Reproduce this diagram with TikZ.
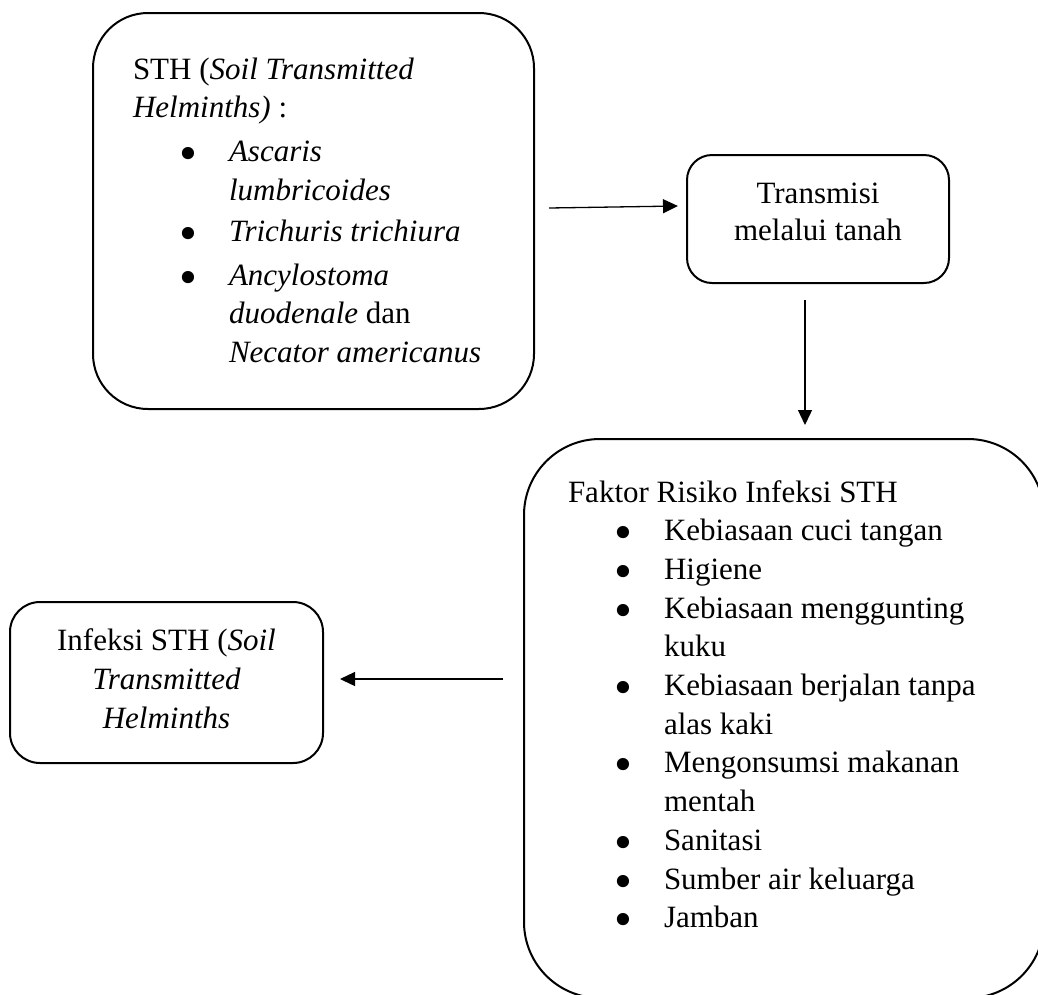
\documentclass[tikz,border=0pt]{standalone}
\usepackage{fontspec}
\setmainfont{Liberation Serif}
\usepackage{graphicx}
\usetikzlibrary{arrows.meta}
\newcommand\mybul{\makebox[96pt][l]{\hspace{46pt}\raisebox{-9pt}[0pt][0pt]{\scalebox{1.65}{\textbullet}}}}
\newcommand\myind{\hspace*{96pt}}
\tikzset{
  box/.style={draw, line width=2pt, inner sep=0pt, outer sep=0pt},
  txt/.style={inner sep=0pt, outer sep=0pt},
  arr/.style={-{Triangle[length=15pt,width=14pt]}, line width=1.3pt}
}
\begin{document}
\begin{tikzpicture}[x=1pt,y=-1pt]
\useasboundingbox (0,0) rectangle (1038,994);
\clip (0,0) rectangle (1038,994);
% boxes
\node[box, rounded corners=55pt, minimum width=441pt, minimum height=396pt] (b1) at (313.5,211) {};
\node[box, rounded corners=25pt, minimum width=262pt, minimum height=128pt] (b2) at (818,219) {};
\node[box, rounded corners=76pt, minimum width=520pt, minimum height=559pt] (b3) at (784,718.5) {};
\node[box, rounded corners=30pt, minimum width=313pt, minimum height=161pt] (b4) at (166.5,682.5) {};
% texts
\node[txt, anchor=base west, font=\fontsize{31}{38.5}\selectfont] (t1) at (133,79) {%
\begin{tabular}[t]{@{}l@{}}
STH (\textit{Soil Transmitted}\\
\textit{Helminths)} :\\[5.5pt]
\mybul\textit{Ascaris}\\
\myind\textit{lumbricoides}\\[3pt]
\mybul\textit{Trichuris trichiura}\\[5pt]
\mybul\textit{Ancylostoma}\\
\myind\textit{duodenale} dan\\
\myind\textit{Necator americanus}
\end{tabular}};
\node[txt, anchor=base, font=\fontsize{31}{37.4}\selectfont] (t2) at (818,203.3) {%
\begin{tabular}[t]{@{}c@{}}
Transmisi\\
melalui tanah
\end{tabular}};
\node[txt, anchor=base west, font=\fontsize{31}{38.7}\selectfont] (t3) at (568,502) {%
\begin{tabular}[t]{@{}l@{}}
Faktor Risiko Infeksi STH\\
\mybul Kebiasaan cuci tangan\\
\mybul Higiene\\
\mybul Kebiasaan menggunting\\
\myind kuku\\
\mybul Kebiasaan berjalan tanpa\\
\myind alas kaki\\
\mybul Mengonsumsi makanan\\
\myind mentah\\
\mybul Sanitasi\\
\mybul Sumber air keluarga\\
\mybul Jamban
\end{tabular}};
\node[txt, anchor=base, font=\fontsize{31}{39}\selectfont] (t4) at (166.5,650.5) {%
\begin{tabular}[t]{@{}c@{}}
Infeksi STH (\textit{Soil}\\
\textit{Transmitted}\\
\textit{Helminths}
\end{tabular}};
% connectors
\draw[arr] ([shift={(15,-3)}]b1.east) -- ([shift={(-9,-13)}]b2.west);
\draw[arr] ([shift={(-13,17)}]b2.south) -- ([shift={(21,-14)}]b3.north);
\draw[arr] ([shift={(-21,-39.5)}]b3.west) -- ([shift={(17,-3.5)}]b4.east);
\end{tikzpicture}
\end{document}
